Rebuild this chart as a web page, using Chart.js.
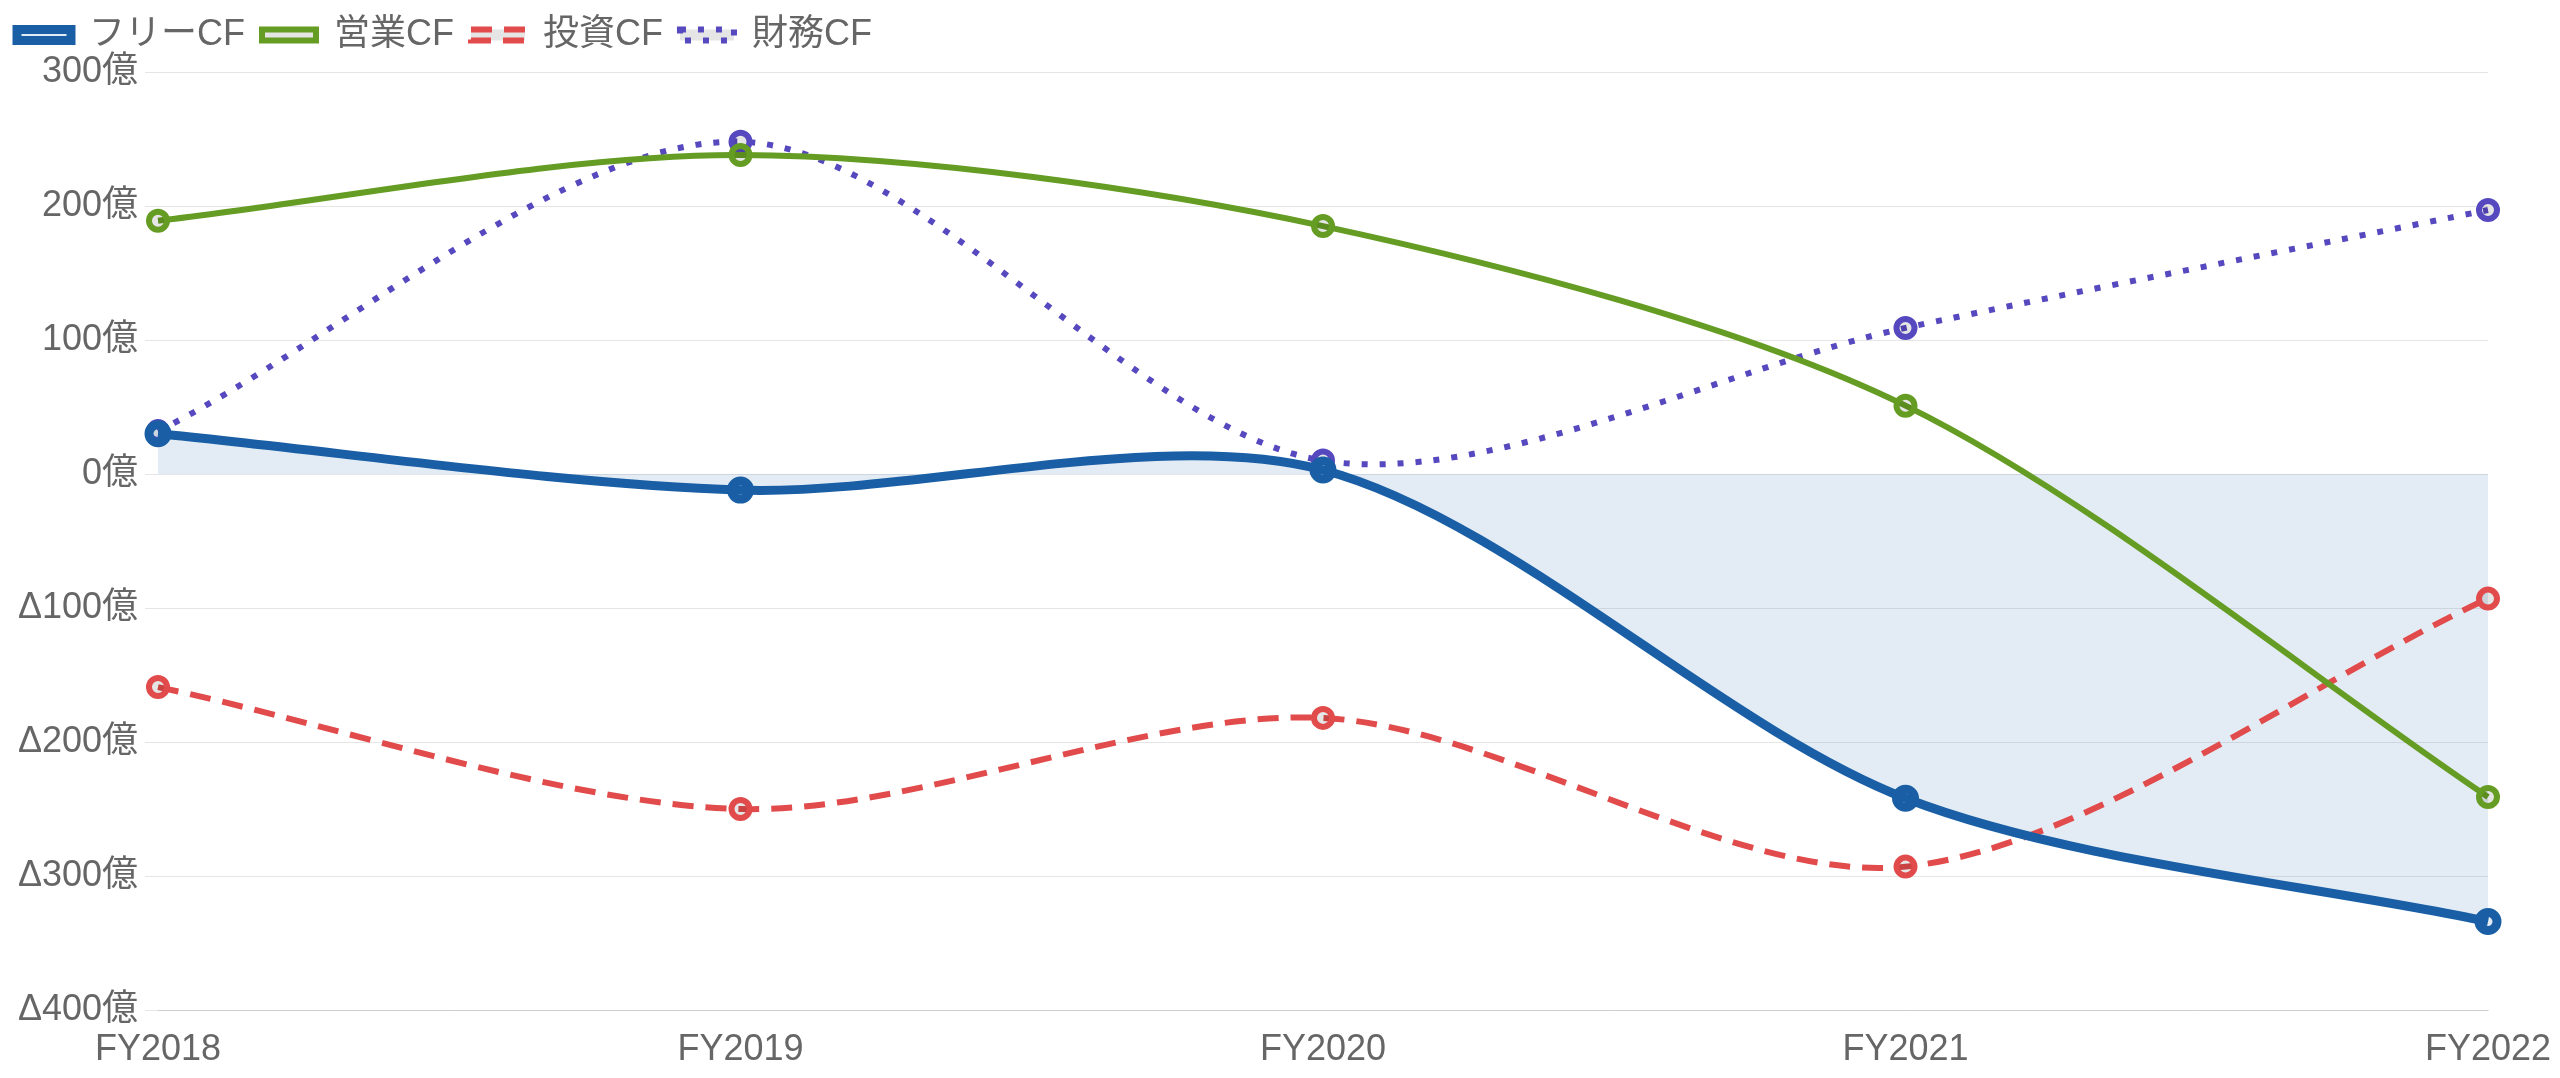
<!DOCTYPE html>
<html lang="ja">
<head>
<meta charset="utf-8">
<script src="https://cdn.jsdelivr.net/npm/chart.js@4.4.1/dist/chart.umd.min.js"></script>
<style>
  html, body { margin: 0; padding: 0; background: #ffffff; overflow: hidden; }
  #wrap { width: 2560px; height: 1078px; position: relative; overflow: hidden; }
  #c { display: block; }
</style>
</head>
<body>
<div id="wrap"><canvas id="c"></canvas></div>
<script>
const categories = ['FY2018', 'FY2019', 'FY2020', 'FY2021', 'FY2022'];
const seriesNames = ['フリーCF', '営業CF', '投資CF', '財務CF'];
const freeCF = [30, -12, 3, -242, -334];
const operatingCF = [189, 238, 185, 51, -241];
const investingCF = [-159, -250, -182, -293, -93];
const financingCF = [32, 248, 10, 109, 197];
const yTickValues = [300, 200, 100, 0, -100, -200, -300, -400];
const yTickLabels = ['300億', '200億', '100億', '0億', 'Δ100億', 'Δ200億', 'Δ300億', 'Δ400億'];

Chart.defaults.font.family = '"Liberation Sans", "Noto Sans CJK JP", sans-serif';
Chart.defaults.font.size = 36;
Chart.defaults.color = '#666666';

const grey = 'rgba(0,0,0,0.1)';
const curveTension = 0.3;

const legendSpacing = {
  id: 'legendSpacing',
  beforeInit(chart) {
    const origFit = chart.legend.fit;
    chart.legend.fit = function () {
      origFit.call(this);
      this.height += 9;
    };
  }
};

new Chart(document.getElementById('c'), {
  type: 'line',
  data: {
    labels: categories,
    datasets: [
      {
        label: seriesNames[0],
        data: freeCF,
        borderColor: '#1a5fa6',
        backgroundColor: 'rgba(26,95,166,0.12)',
        pointBackgroundColor: 'rgba(26,95,166,0.12)',
        borderWidth: 9,
        pointRadius: 9,
        pointBorderWidth: 9,
        fill: 'origin',
        tension: curveTension
      },
      {
        label: seriesNames[1],
        data: operatingCF,
        borderColor: '#659c23',
        backgroundColor: grey,
        pointBackgroundColor: grey,
        borderWidth: 6,
        pointRadius: 9,
        pointBorderWidth: 6,
        fill: false,
        tension: curveTension
      },
      {
        label: seriesNames[2],
        data: investingCF,
        borderColor: '#e14b4b',
        backgroundColor: grey,
        pointBackgroundColor: grey,
        borderWidth: 6,
        borderDash: [21, 12],
        pointRadius: 9,
        pointBorderWidth: 6,
        fill: false,
        tension: curveTension
      },
      {
        label: seriesNames[3],
        data: financingCF,
        borderColor: '#5648be',
        backgroundColor: grey,
        pointBackgroundColor: grey,
        borderWidth: 6,
        borderDash: [6, 12],
        pointRadius: 9,
        pointBorderWidth: 6,
        fill: false,
        tension: curveTension
      }
    ]
  },
  plugins: [legendSpacing],
  options: {
    responsive: true,
    maintainAspectRatio: false,
    devicePixelRatio: 1,
    animation: false,
    layout: { padding: { left: 0, right: 0, top: 0, bottom: 0 } },
    plugins: {
      filler: { drawTime: 'beforeDatasetsDraw' },
      tooltip: { enabled: false },
      legend: {
        position: 'top',
        align: 'start',
        labels: {
          boxWidth: 54,
          boxHeight: 11,
          padding: 17,
          color: '#666666',
          font: { size: 36 }
        }
      }
    },
    scales: {
      x: {
        afterFit: (scale) => {
          scale.height = 68;
          scale.paddingRight = 72;
          scale.paddingLeft = 0;
        },
        grid: { display: false, drawTicks: false },
        border: { display: true, color: grey },
        ticks: { padding: 18, color: '#666666', font: { size: 36 }, maxRotation: 0 }
      },
      y: {
        min: -400,
        max: 300,
        afterFit: (scale) => { scale.width = 158; },
        grid: { color: grey, tickLength: 13, drawTicks: true },
        border: { display: false },
        ticks: {
          stepSize: 100,
          padding: 7,
          color: '#666666',
          font: { size: 36 },
          callback: (value) => {
            const i = yTickValues.indexOf(value);
            return i >= 0 ? yTickLabels[i] : '';
          }
        }
      }
    }
  }
});
</script>
</body>
</html>
